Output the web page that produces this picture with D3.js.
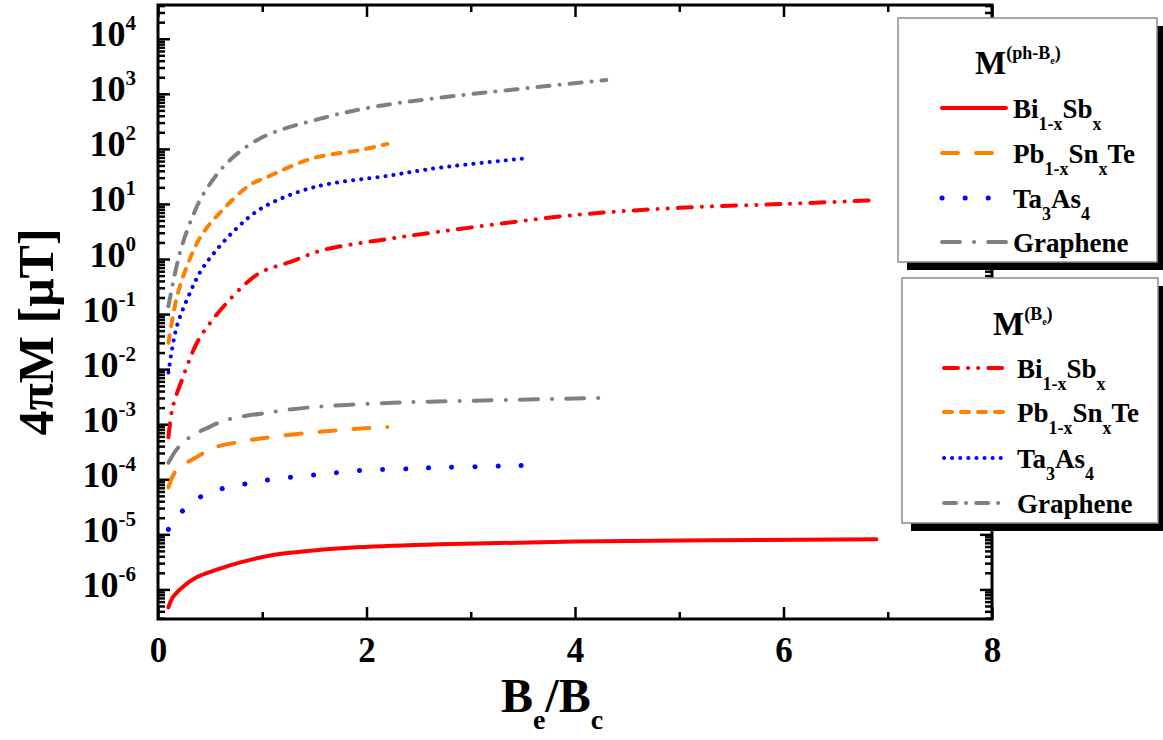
<!DOCTYPE html>
<html lang="en">
  <head>
    <meta charset="UTF-8" />
    <title>Magnetization vs Be/Bc</title>
    <style>
      body { margin: 0; background: #fff; }
      svg text { font-family: "Liberation Serif", "Times New Roman", serif; font-weight: bold; fill: #000; }
      .tick line { stroke: #000; stroke-width: 2.5; }
    </style>
  </head>
  <body>
    <div id="app"></div>
    <script src="https://cdn.jsdelivr.net/npm/d3@7/dist/d3.min.js"></script>
    <script>
      // lower group: M^(ph-Be)
      const xBiPh = [0.1, 0.14, 0.24, 0.37, 0.57, 0.79, 1.1, 1.49, 1.91, 2.7, 4.0, 6.89];
      const biPh = [4.7e-7, 7.1e-7, 1.12e-6, 1.66e-6, 2.3e-6, 3.1e-6, 4.2e-6, 5.1e-6, 5.8e-6, 6.6e-6, 7.4e-6, 8.1e-6];
      const xPbPh = [0.1, 0.18, 0.36, 0.53, 0.79, 1.1, 1.53, 1.91, 2.2];
      const pbPh = [7.1e-5, 1.51e-4, 2.45e-4, 3.7e-4, 4.8e-4, 5.9e-4, 7.2e-4, 8.3e-4, 8.9e-4];
      const xTaPh = [0.1, 0.23, 0.4, 0.62, 0.85, 1.07, 1.51, 1.96, 2.4, 2.63, 3.55];
      const taPh = [1.23e-5, 2.6e-5, 4.7e-5, 6.8e-5, 8.3e-5, 9.8e-5, 1.2e-4, 1.45e-4, 1.55e-4, 1.62e-4, 1.78e-4];
      const xGrPh = [0.1, 0.19, 0.31, 0.47, 0.66, 1.05, 1.43, 1.81, 2.25, 2.61, 4.29];
      const grPh = [2.0e-4, 3.7e-4, 5.9e-4, 8.5e-4, 1.2e-3, 1.62e-3, 2.0e-3, 2.24e-3, 2.45e-3, 2.57e-3, 3.0e-3];

      // upper group: M^(Be)
      const xBiBe = [0.1, 0.14, 0.24, 0.33, 0.4, 0.5, 0.66, 0.85, 1.0, 1.27, 1.58, 2.13, 2.68, 4.0, 5.0, 6.0, 6.9];
      const biBe = [5.8e-4, 2.0e-3, 7.2e-3, 0.02, 0.037, 0.069, 0.16, 0.37, 0.59, 0.89, 1.45, 2.2, 3.1, 6.3, 8.5, 10, 11.7];
      const xPbBe = [0.1, 0.18, 0.29, 0.42, 0.62, 0.88, 1.05, 1.49, 1.94, 2.2];
      const pbBe = [0.03, 0.2, 0.85, 2.75, 7.8, 22, 31, 68, 95, 123];
      const xTaBe = [0.1, 0.18, 0.31, 0.4, 0.5, 0.74, 1.0, 1.49, 2.23, 2.68, 3.55];
      const taBe = [8.7e-3, 0.059, 0.25, 0.56, 1.05, 3.4, 8.5, 20, 33, 45, 68];
      const xGrBe = [0.1, 0.21, 0.33, 0.43, 0.66, 1.0, 1.58, 2.06, 2.66, 4.3];
      const grBe = [0.14, 1.3, 5.8, 14.5, 55, 162, 363, 575, 832, 1780];

      const xMajor = [0, 2, 4, 6, 8];
      const xMinor = [1, 3, 5, 7];
      const yExponents = [-6, -5, -4, -3, -2, -1, 0, 1, 2, 3, 4];

      const width = 1163;
      const height = 740;
      const plotLeft = 158, plotRight = 992, plotTop = 5, plotBottom = 619;

      const x = d3.scaleLinear().domain([0, 8]).range([plotLeft, plotRight]);
      const y = d3.scaleLog().domain([2.9e-7, 4.1e4]).range([plotBottom, plotTop]);

      const svg = d3.select("#app").append("svg")
        .attr("width", width)
        .attr("height", height);

      // minor ticks of the log axis
      const yMajor = yExponents.map(e => Math.pow(10, e));
      const yMinor = [];
      for (let e = -7; e <= 4; e++) {
        for (let m = 2; m <= 9; m++) {
          const v = m * Math.pow(10, e);
          if (v >= y.domain()[0] && v <= y.domain()[1]) yMinor.push(v);
        }
      }

      function axisStyle(g) {
        g.select(".domain").remove();
        g.attr("font-family", null).attr("font-size", null);
      }

      // left / right
      svg.append("g").attr("transform", `translate(${plotLeft},0)`)
        .call(d3.axisLeft(y).tickValues(yMinor).tickSize(-7).tickFormat("")).call(axisStyle);
      svg.append("g").attr("transform", `translate(${plotRight},0)`)
        .call(d3.axisRight(y).tickValues(yMinor).tickSize(-7).tickFormat("")).call(axisStyle);
      svg.append("g").attr("transform", `translate(${plotRight},0)`)
        .call(d3.axisRight(y).tickValues(yMajor).tickSize(-12).tickFormat("")).call(axisStyle);
      const yAxis = svg.append("g").attr("transform", `translate(${plotLeft},0)`)
        .call(d3.axisLeft(y).tickValues(yMajor).tickSize(-12).tickPadding(22)).call(axisStyle);
      yAxis.selectAll(".tick text").each(function (d) {
        const t = d3.select(this);
        const e = Math.round(Math.log10(d));
        t.text(null).attr("dy", null).attr("y", 7).attr("font-size", 36);
        t.append("tspan").text("10");
        t.append("tspan").attr("font-size", 21).attr("dy", -16).text(e);
      });

      // bottom / top
      svg.append("g").attr("transform", `translate(0,${plotBottom})`)
        .call(d3.axisBottom(x).tickValues(xMinor).tickSize(-7).tickFormat("")).call(axisStyle);
      svg.append("g").attr("transform", `translate(0,${plotTop})`)
        .call(d3.axisTop(x).tickValues(xMinor).tickSize(-7).tickFormat("")).call(axisStyle);
      svg.append("g").attr("transform", `translate(0,${plotTop})`)
        .call(d3.axisTop(x).tickValues(xMajor).tickSize(-12).tickFormat("")).call(axisStyle);
      const xAxis = svg.append("g").attr("transform", `translate(0,${plotBottom})`)
        .call(d3.axisBottom(x).tickValues(xMajor).tickSize(-12).tickPadding(0).tickFormat(d3.format("d")))
        .call(axisStyle);
      xAxis.selectAll(".tick text").attr("dy", null).attr("y", 43).attr("font-size", 35);

      // frame
      svg.append("rect")
        .attr("x", plotLeft).attr("y", plotTop)
        .attr("width", plotRight - plotLeft).attr("height", plotBottom - plotTop)
        .attr("fill", "none").attr("stroke", "#000").attr("stroke-width", 3);

      // curves
      const series = [
        { xs: xBiPh, ys: biPh, color: "#ff0000", dash: null, w: 4, label: [["Bi", 0], ["1-x", 1], ["Sb", 0], ["x", 1]] },
        { xs: xPbPh, ys: pbPh, color: "#ff8000", dash: "16,18", w: 4, label: [["Pb", 0], ["1-x", 1], ["Sn", 0], ["x", 1], ["Te", 0]] },
        { xs: xTaPh, ys: taPh, color: "#0000ff", dash: "0.1,23", w: 5, label: [["Ta", 0], ["3", 1], ["As", 0], ["4", 1]] },
        { xs: xGrPh, ys: grPh, color: "#808080", dash: "18,14,0.1,14", w: 4, label: [["Graphene", 0]] },
        { xs: xBiBe, ys: biBe, color: "#ff0000", dash: "14,10,0.1,10,0.1,10", w: 4, label: [["Bi", 0], ["1-x", 1], ["Sb", 0], ["x", 1]] },
        { xs: xPbBe, ys: pbBe, color: "#ff8000", dash: "8,9", w: 4, label: [["Pb", 0], ["1-x", 1], ["Sn", 0], ["x", 1], ["Te", 0]] },
        { xs: xTaBe, ys: taBe, color: "#0000ff", dash: "0.1,8", w: 4, label: [["Ta", 0], ["3", 1], ["As", 0], ["4", 1]] },
        { xs: xGrBe, ys: grBe, color: "#808080", dash: "12,10,0.1,10", w: 4, label: [["Graphene", 0]] }
      ];

      const line = d3.line()
        .x(d => x(d[0]))
        .y(d => y(d[1]))
        .curve(d3.curveCatmullRom.alpha(0.5));

      series.forEach(s => {
        svg.append("path")
          .datum(s.xs.map((v, i) => [v, s.ys[i]]))
          .attr("d", line)
          .attr("fill", "none")
          .attr("stroke", s.color)
          .attr("stroke-width", s.w)
          .attr("stroke-linecap", "round")
          .attr("stroke-dasharray", s.dash);
      });

      // legends
      function legend(bx, by, bw, bh, title, items, titleX, titleY, rows, lineX, textX) {
        const g = svg.append("g");
        g.append("rect").attr("x", bx + 9).attr("y", by + 8).attr("width", bw).attr("height", bh).attr("fill", "#000");
        g.append("rect").attr("x", bx).attr("y", by).attr("width", bw).attr("height", bh)
          .attr("fill", "#fff").attr("stroke", "#8c8c8c").attr("stroke-width", 1.5);
        const t = g.append("text").attr("x", titleX).attr("y", titleY).attr("font-size", 33);
        t.append("tspan").text("M");
        title.forEach(p => {
          t.append("tspan").attr("font-size", p[2]).attr("dy", p[1]).text(p[0]);
        });
        items.forEach((s, i) => {
          const ly = rows[i];
          g.append("line").attr("x1", lineX[0]).attr("x2", lineX[1]).attr("y1", ly).attr("y2", ly)
            .attr("stroke", s.color).attr("stroke-width", s.w).attr("stroke-linecap", "round")
            .attr("stroke-dasharray", s.dash);
          const tx = g.append("text").attr("x", textX).attr("y", ly + 10).attr("font-size", 27);
          let level = 0;
          s.label.forEach(p => {
            const sp = tx.append("tspan").text(p[0]);
            if (p[1] !== level) sp.attr("dy", p[1] ? 12 : -12);
            if (p[1]) sp.attr("font-size", 18);
            level = p[1];
          });
        });
      }

      legend(898, 18, 259, 244,
        [["(ph-B", -15, 18], ["e", 5, 10], [")", -5, 18]],
        series.slice(0, 4), 975, 74, [108, 153, 198, 242], [942, 1006], 1013);
      legend(902, 278, 256, 245,
        [["(B", -15, 18], ["e", 5, 10], [")", -5, 18]],
        series.slice(4), 993, 335, [368, 412, 458, 503], [944, 1006], 1017);

      // axis titles
      const yt = svg.append("text")
        .attr("transform", "translate(53,332) rotate(-90)")
        .attr("text-anchor", "middle")
        .attr("font-size", 50);
      yt.append("tspan").text("4πM [μT]");

      const xt = svg.append("text")
        .attr("x", 552).attr("y", 712)
        .attr("text-anchor", "middle")
        .attr("font-size", 48);
      xt.append("tspan").text("B");
      xt.append("tspan").attr("font-size", 28).attr("dy", 17).text("e");
      xt.append("tspan").attr("dy", -17).text("/B");
      xt.append("tspan").attr("font-size", 28).attr("dy", 17).text("c");
    </script>
  </body>
</html>
